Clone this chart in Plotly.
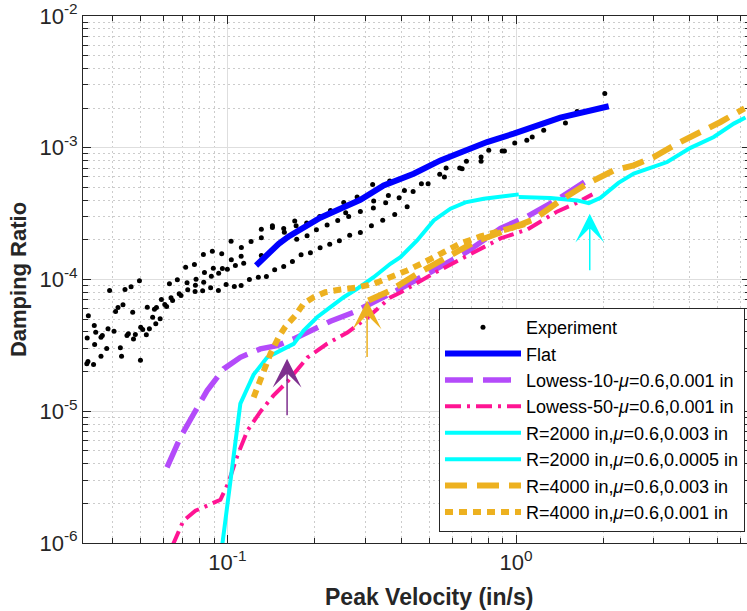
import math
import plotly.graph_objects as go

# ---------------- data ----------------
exp_velocity = [
    0.1030, 0.1118, 0.0887, 0.0826, 0.0956, 0.0717, 0.0769, 0.1032, 0.1116, 0.1066,
    0.0894, 0.0961, 0.1000, 0.0833, 0.0933, 0.0880, 0.0779, 0.0671, 0.0496, 0.0725,
    0.0630, 0.0828, 0.0990, 0.1057, 0.1116, 0.0775, 0.0875, 0.0931, 0.0821, 0.0729,
    0.0773, 0.0681, 0.0691, 0.0391, 0.0442, 0.0464, 0.0638, 0.0646, 0.0591, 0.0607,
    0.0616, 0.0559, 0.0568, 0.0551, 0.0585, 0.0565, 0.0435, 0.0418, 0.0410, 0.0470,
    0.0528, 0.0524, 0.0537, 0.0501, 0.0509, 0.0480, 0.0454, 0.0449, 0.0473, 0.0405,
    0.0386, 0.0369, 0.0365, 0.0350, 0.0346, 0.0330, 0.0327, 0.0347, 0.0382, 0.0426,
    0.0430, 0.0365, 0.0329, 0.0326, 0.0344, 0.0500,
    0.1208, 0.1311, 0.1311, 0.1432, 0.1432, 0.1567, 0.1575, 0.1711, 0.1730, 0.1738,
    0.1882, 0.1888, 0.2034, 0.2088, 0.2215, 0.2275, 0.2411, 0.2529, 0.2569, 0.2631,
    0.2814, 0.2888, 0.3185, 0.3211, 0.3203, 0.3534, 0.3611, 0.3649, 0.3934, 0.4104,
    0.4398, 0.4699, 0.4957, 0.1139, 0.1311,
    0.1192, 0.1280, 0.1365, 0.1458, 0.1567, 0.1680, 0.1800, 0.1939, 0.2095, 0.2262,
    0.2443, 0.2652, 0.2888, 0.3154, 0.3451, 0.3798, 0.4194, 0.5438, 0.5645, 0.5722,
    0.6377, 0.6501, 0.6728, 0.7563, 0.7563, 0.8040, 0.8946, 0.9111, 0.9890, 1.089,
    1.137, 1.246, 1.482, 1.627, 2.028,
]
exp_damping = [
    1.955e-4, 1.751e-4, 1.641e-4, 1.549e-4, 1.568e-4, 1.240e-4, 1.300e-4, 1.411e-4, 1.503e-4, 1.278e-4,
    1.219e-4, 1.212e-4, 1.198e-4, 1.130e-4, 1.117e-4, 1.059e-4, 1.005e-4, 0.995e-4, 0.977e-4, 0.944e-4,
    0.927e-4, 0.954e-4, 0.916e-4, 0.885e-4, 0.900e-4, 0.905e-4, 0.865e-4, 0.825e-4, 0.821e-4, 0.835e-4,
    0.811e-4, 0.779e-4, 0.756e-4, 0.825e-4, 0.839e-4, 0.880e-4, 0.726e-4, 0.692e-4, 0.705e-4, 0.646e-4,
    0.624e-4, 0.595e-4, 0.613e-4, 0.517e-4, 0.503e-4, 0.461e-4, 0.642e-4, 0.613e-4, 0.571e-4, 0.564e-4,
    0.616e-4, 0.380e-4, 0.422e-4, 0.434e-4, 0.417e-4, 0.382e-4, 0.387e-4, 0.375e-4, 0.354e-4, 0.405e-4,
    0.422e-4, 0.375e-4, 0.364e-4, 0.398e-4, 0.447e-4, 0.530e-4, 0.360e-4, 0.321e-4, 0.299e-4, 0.303e-4,
    0.261e-4, 0.261e-4, 0.239e-4, 0.229e-4, 0.226e-4, 0.244e-4,
    1.945e-4, 2.411e-4, 2.075e-4, 2.559e-4, 2.484e-4, 2.441e-4, 2.288e-4, 2.774e-4, 2.559e-4, 2.025e-4,
    2.679e-4, 2.148e-4, 2.386e-4, 3.012e-4, 2.587e-4, 3.345e-4, 2.808e-4, 3.847e-4, 3.213e-4, 3.012e-4,
    4.222e-4, 3.287e-4, 5.272e-4, 3.936e-4, 3.483e-4, 3.827e-4, 4.349e-4, 5.585e-4, 4.178e-4, 4.747e-4,
    4.665e-4, 5.337e-4, 5.337e-4, 1.330e-4, 1.522e-4,
    1.000e-4, 1.041e-4, 1.054e-4, 1.185e-4, 1.255e-4, 1.370e-4, 1.541e-4, 1.596e-4, 1.741e-4, 1.855e-4,
    1.968e-4, 2.171e-4, 2.276e-4, 2.559e-4, 2.822e-4, 3.119e-4, 3.569e-4, 6.281e-4, 5.990e-4, 7.015e-4,
    7.015e-4, 6.940e-4, 7.890e-4, 8.500e-4, 7.890e-4, 9.560e-4, 9.440e-4, 9.440e-4, 1.086e-3, 1.139e-3,
    1.206e-3, 1.357e-3, 1.541e-3, 1.882e-3, 2.578e-3,
]

flat_velocity = [0.1257, 0.1506, 0.1631, 0.1888, 0.2099, 0.2461, 0.2888, 0.3478, 0.4418,
                 0.5468, 0.7932, 0.981, 1.423, 2.093]
flat_damping = [1.277e-4, 1.867e-4, 2.122e-4, 2.603e-4, 2.943e-4, 3.445e-4, 4.032e-4, 5.178e-4,
                6.356e-4, 8.02e-4, 1.105e-3, 1.280e-3, 1.693e-3, 2.064e-3]

lowess10_velocity = [0.0618, 0.0687, 0.0764, 0.0851, 0.0971, 0.1109, 0.1301, 0.1486, 0.1697,
                     0.1939, 0.2275, 0.2739, 0.3211, 0.3975, 0.5172, 0.6783, 0.8826, 1.094,
                     1.390, 1.739]
lowess10_damping = [3.75e-6, 6.33e-6, 9.53e-6, 1.434e-5, 2.097e-5, 2.567e-5, 2.974e-5, 3.150e-5,
                    3.542e-5, 4.097e-5, 4.82e-5, 5.64e-5, 6.69e-5, 8.54e-5, 1.171e-4, 1.632e-4,
                    2.441e-4, 3.012e-4, 4.055e-4, 5.556e-4]

lowess50_velocity = [0.0645, 0.0704, 0.0775, 0.0873, 0.0946, 0.1008, 0.1083, 0.1173, 0.1301,
                     0.1443, 0.1614, 0.1893, 0.2220, 0.2604, 0.3055, 0.3669, 0.3975, 0.5172,
                     0.6783, 0.8826, 1.094, 1.390, 1.606, 1.838]
lowess50_damping = [9.5e-7, 1.474e-6, 1.756e-6, 1.950e-6, 2.128e-6, 2.865e-6, 4.60e-6, 7.12e-6,
                    9.93e-6, 1.313e-5, 1.678e-5, 2.554e-5, 3.264e-5, 3.956e-5, 5.14e-5, 7.30e-5,
                    7.97e-5, 1.111e-4, 1.522e-4, 2.049e-4, 2.399e-4, 3.287e-4, 3.781e-4, 4.426e-4]

r2000a_velocity = [0.0959, 0.1024, 0.1109, 0.1233, 0.1372, 0.1567, 0.1697, 0.1837, 0.2045,
                   0.2275, 0.2529, 0.2814, 0.3211, 0.3669, 0.3975, 0.4540, 0.5184, 0.5923,
                   0.6673, 0.7725, 0.8826, 1.021]
r2000a_damping = [9.5e-7, 2.968e-6, 1.142e-5, 1.897e-5, 2.554e-5, 2.974e-5, 3.246e-5, 4.097e-5,
                  5.17e-5, 6.16e-5, 7.34e-5, 8.50e-5, 1.041e-4, 1.316e-4, 1.477e-4, 1.979e-4,
                  2.808e-4, 3.446e-4, 3.847e-4, 4.105e-4, 4.274e-4, 4.426e-4]

r2000b_velocity = [1.021, 1.315, 1.627, 1.785, 1.959, 2.262, 2.556, 3.336, 4.017, 4.837, 5.674, 6.229]
r2000b_damping = [4.222e-4, 4.149e-4, 3.984e-4, 3.801e-4, 4.164e-4, 5.41e-4, 6.36e-4, 7.79e-4,
                  9.99e-4, 1.206e-3, 1.525e-3, 1.694e-3]

r4000a_velocity = [0.3078, 0.3669, 0.4540, 0.5768, 0.7131, 0.8826, 1.151, 1.424, 1.762, 2.179,
                   2.556, 2.998, 3.613, 4.350, 5.104, 6.179]
r4000a_damping = [6.92e-5, 8.25e-5, 1.105e-4, 1.477e-4, 1.910e-4, 2.276e-4, 2.858e-4, 3.984e-4,
                  5.337e-4, 6.735e-4, 7.35e-4, 8.50e-4, 1.075e-3, 1.317e-3, 1.569e-3, 1.993e-3]

r4000b_velocity = [0.1233, 0.1283, 0.1336, 0.1409, 0.1505, 0.1588, 0.1720, 0.1837, 0.1991,
                   0.2185, 0.2463, 0.2814, 0.3211, 0.3669, 0.4194, 0.4786, 0.5768, 0.6413,
                   0.7523, 0.8826, 1.035, 1.121]
r4000b_damping = [1.274e-5, 1.612e-5, 2.034e-5, 2.725e-5, 3.643e-5, 4.393e-5, 5.33e-5, 6.57e-5,
                  7.34e-5, 8.01e-5, 8.39e-5, 8.69e-5, 9.27e-5, 1.036e-4, 1.171e-4, 1.346e-4,
                  1.661e-4, 1.877e-4, 2.122e-4, 2.316e-4, 2.573e-4, 2.712e-4]

MU = "<i>μ</i>"
series_names = [
    "Experiment",
    "Flat",
    "Lowess-10-" + MU + "=0.6,0.001 in",
    "Lowess-50-" + MU + "=0.6,0.001 in",
    "R=2000 in," + MU + "=0.6,0.003 in",
    "R=2000 in," + MU + "=0.6,0.0005 in",
    "R=4000 in," + MU + "=0.6,0.003 in",
    "R=4000 in," + MU + "=0.6,0.001 in",
]
x_title = "Peak Velocity (in/s)"
y_title = "Damping Ratio"

# arrow tips (velocity, damping)
arrow_purple_tip = (0.161, 2.50e-5)
arrow_orange_tip = (0.3047, 6.92e-5)
arrow_cyan_tip = (1.799, 3.158e-4)

x_tickvals = [0.1, 1]
x_ticktext = ["10<sup>-1</sup>", "10<sup>0</sup>"]
y_tickvals = [1e-6, 1e-5, 1e-4, 1e-3, 1e-2]
y_ticktext = ["10<sup>-6</sup>", "10<sup>-5</sup>", "10<sup>-4</sup>", "10<sup>-3</sup>", "10<sup>-2</sup>"]

# ---------------- styling ----------------
FONT = "Liberation Sans, Arial, Helvetica, sans-serif"
AX = "#262626"
PURPLE = "rgb(180,75,250)"
PINK = "rgb(255,20,147)"
CYAN = "rgb(0,255,255)"
ORANGE = "rgb(237,177,32)"
DARKPURPLE = "rgb(126,47,142)"

fig = go.Figure()
fig.add_trace(go.Scatter(x=exp_velocity, y=exp_damping, mode="markers", name=series_names[0],
                         marker=dict(color="black", size=5)))
fig.add_trace(go.Scatter(x=flat_velocity, y=flat_damping, mode="lines", name=series_names[1],
                         line=dict(color="rgb(0,0,255)", width=6)))
fig.add_trace(go.Scatter(x=lowess10_velocity, y=lowess10_damping, mode="lines", name=series_names[2],
                         line=dict(color=PURPLE, width=5.5, dash="28px,10px")))
fig.add_trace(go.Scatter(x=lowess50_velocity, y=lowess50_damping, mode="lines", name=series_names[3],
                         line=dict(color=PINK, width=4, dash="16px,6px,3px,6px")))
fig.add_trace(go.Scatter(x=r2000a_velocity, y=r2000a_damping, mode="lines", name=series_names[4],
                         line=dict(color=CYAN, width=4)))
fig.add_trace(go.Scatter(x=r2000b_velocity, y=r2000b_damping, mode="lines", name=series_names[5],
                         line=dict(color=CYAN, width=4)))
fig.add_trace(go.Scatter(x=r4000a_velocity, y=r4000a_damping, mode="lines", name=series_names[6],
                         line=dict(color=ORANGE, width=6, dash="22px,10px")))
fig.add_trace(go.Scatter(x=r4000b_velocity, y=r4000b_damping, mode="lines", name=series_names[7],
                         line=dict(color=ORANGE, width=6, dash="8px,6px")))

for tip, col in [(arrow_purple_tip, DARKPURPLE), (arrow_orange_tip, ORANGE), (arrow_cyan_tip, CYAN)]:
    fig.add_annotation(x=math.log10(tip[0]), y=math.log10(tip[1]), xref="x", yref="y",
                       ax=0, ay=58, axref="pixel", ayref="pixel", text="",
                       showarrow=True, arrowhead=3, arrowsize=3.2, arrowwidth=1.5,
                       arrowcolor=col, standoff=0)

# x-axis title (placed as in the reference, slightly right of the axis centre)
fig.add_annotation(text="<b>" + x_title + "</b>", xref="paper", yref="paper",
                   x=0.519, y=-0.103, xanchor="center", yanchor="middle", showarrow=False,
                   font=dict(family=FONT, size=23, color=AX))

minor_vals = [k * 10.0 ** e for e in range(-7, 2) for k in range(2, 10)]

axis_common = dict(
    type="log", showline=True, linecolor=AX, linewidth=1, mirror="ticks",
    ticks="inside", ticklen=8, tickwidth=1, tickcolor=AX, automargin=False,
    showgrid=True, gridcolor="#dedede", gridwidth=1, zeroline=False,
    tickfont=dict(family=FONT, size=22, color=AX),
    minor=dict(tickvals=minor_vals, ticks="inside", ticklen=5, tickcolor=AX,
               showgrid=True, gridcolor="#cccccc", griddash="2px,3px", gridwidth=1),
)

fig.update_layout(
    width=751, height=611,
    margin=dict(l=83, r=1, t=16, b=68),
    paper_bgcolor="white", plot_bgcolor="white",
    font=dict(family=FONT, color=AX),
    xaxis=dict(axis_common, range=[-1.5, 0.81], tickvals=x_tickvals, ticktext=x_ticktext),
    yaxis=dict(axis_common, range=[-6, -2], tickvals=y_tickvals, ticktext=y_ticktext,
               title=dict(text="<b>" + y_title + "</b>", font=dict(family=FONT, size=22, color=AX),
                          standoff=6)),
    legend=dict(x=0.9925, xanchor="right", y=0.021, yanchor="bottom", bgcolor="white",
                bordercolor=AX, borderwidth=1, itemwidth=76, tracegroupgap=0,
                font=dict(family=FONT, size=18, color="black")),
    showlegend=True,
)

fig.write_html("out.html", config={"displayModeBar": False})

# remove the default page margin so the figure starts at the window's top-left corner
with open("out.html", "r", encoding="utf-8") as fh:
    html = fh.read()
html = html.replace("<head>", "<head><style>html,body{margin:0;padding:0;overflow:hidden;}</style>", 1)
with open("out.html", "w", encoding="utf-8") as fh:
    fh.write(html)
